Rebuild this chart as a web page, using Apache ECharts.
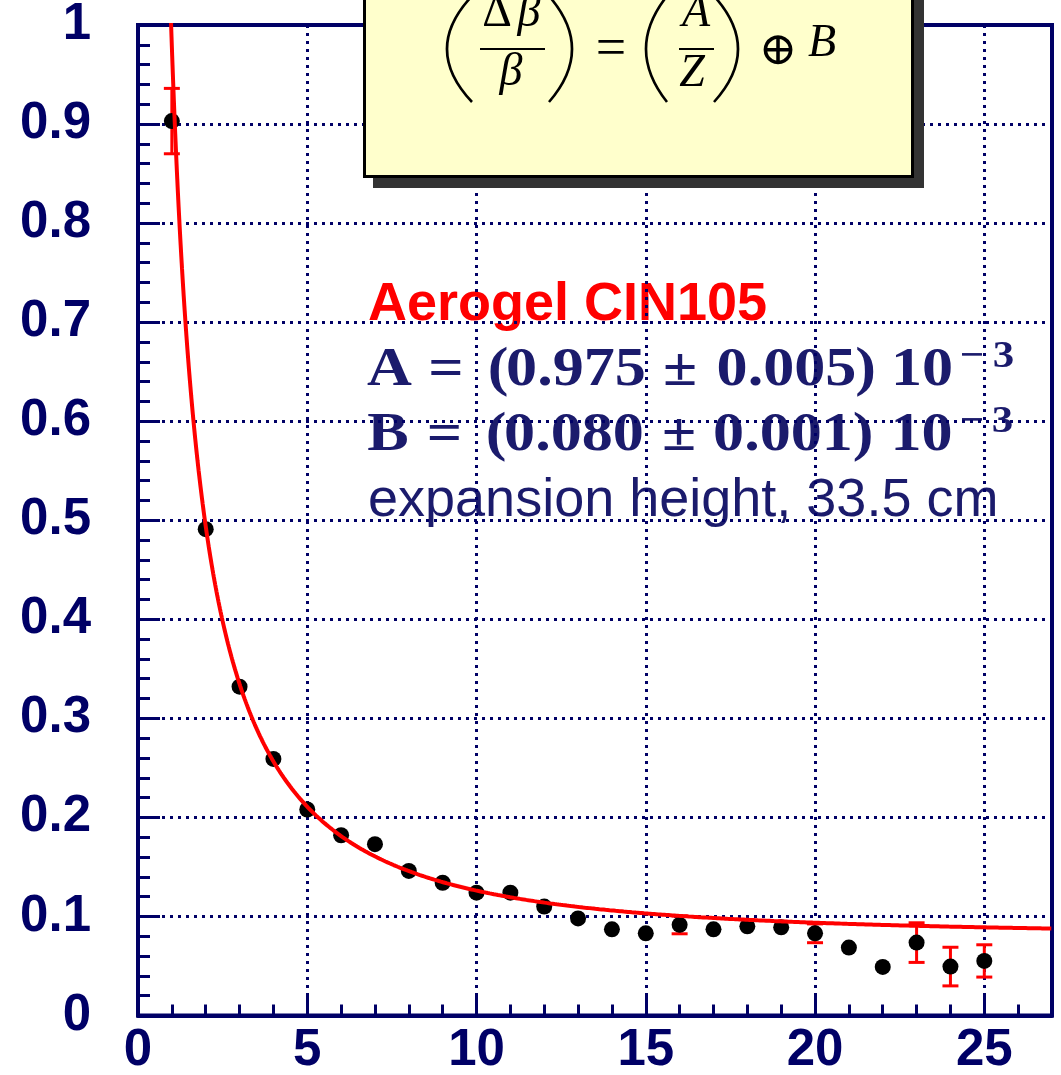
<!DOCTYPE html>
<html>
<head>
<meta charset="utf-8">
<script src="https://cdn.jsdelivr.net/npm/echarts@6/dist/echarts.min.js"></script>
<style>
  html, body { margin: 0; padding: 0; background: #ffffff; }
  #chart { width: 1061px; height: 1075px; }
</style>
</head>
<body>
<div id="chart"></div>
<script>
// Measured velocity resolution (Δβ/β, in units of 1e-3) versus particle charge Z
const charges = [1, 2, 3, 4, 5, 6, 7, 8, 9, 10, 11, 12, 13, 14, 15, 16, 17, 18, 19, 20, 21, 22, 23, 24, 25];
const resolution = [0.903, 0.491, 0.332, 0.259, 0.208, 0.182, 0.173, 0.146, 0.134, 0.124, 0.124, 0.110, 0.098,
                    0.087, 0.083, 0.0915, 0.087, 0.090, 0.089, 0.083, 0.0686, 0.049, 0.0736, 0.0494, 0.0551];
// Statistical errors; 0 where the bar is smaller than the marker
const resolutionErr = [0.033, 0, 0, 0, 0, 0, 0, 0, 0, 0, 0, 0, 0,
                       0, 0, 0.009, 0, 0, 0, 0.0095, 0, 0, 0.020, 0.0195, 0.0163];

// Fit parameters: (Δβ/β) = (A/Z) ⊕ B
const fitA = 0.975;
const fitB = 0.080;

const xMin = 0, xMax = 27;
const yMin = 0, yMax = 1;

const NAVY = '#000066';
const TEXT_NAVY = '#1b1b6c';

// Fit curve evaluated from the fitted parameters
const fitCurve = [];
for (let z = 0.96; z <= xMax + 1e-9; z += 0.01) {
  fitCurve.push([z, Math.sqrt((fitA / z) * (fitA / z) + fitB * fitB)]);
}

const points = charges.map((z, i) => [z, resolution[i]]);
const errorBars = charges
  .map((z, i) => [z, resolution[i], resolutionErr[i]])
  .filter(d => d[2] > 0);

const chart = echarts.init(document.getElementById('chart'), null, { renderer: 'canvas' });

// --- annotation helpers -------------------------------------------------
function txt(text, x, y, font, fill, opts) {
  const o = Object.assign({ align: 'center', z: -1, scaleX: 1 }, opts || {});
  return {
    type: 'text', x: x, y: y, z: o.z, scaleX: o.scaleX, silent: true,
    style: {
      text: text, font: font, fill: fill,
      textAlign: o.align, textVerticalAlign: 'middle',
      align: o.align, verticalAlign: 'middle'
    }
  };
}
function seg(x1, y1, x2, y2, w, color, z) {
  return { type: 'line', z: z, silent: true,
           shape: { x1: x1, y1: y1, x2: x2, y2: y2 },
           style: { stroke: color, lineWidth: w } };
}
function paren(xEnd, xMid, z) {
  // big bracket drawn as a quadratic curve bulging to xMid
  return { type: 'bezierCurve', z: z, silent: true,
           shape: { x1: xEnd, y1: -4, cpx1: 2 * xMid - xEnd, cpy1: 49, x2: xEnd, y2: 102 },
           style: { stroke: '#000', lineWidth: 2.6, fill: null } };
}

const mathFont = 'bold 55px "Liberation Serif"';
const supFont = 'bold 38px "Liberation Serif"';
const MS = 1.13;

function mathLine(tokens, midY, supMidY) {
  const out = [];
  tokens.forEach(t => {
    const isSup = t[2] === 'sup';
    out.push(txt(t[0], t[1], isSup ? supMidY : midY, isSup ? supFont : mathFont, TEXT_NAVY, { scaleX: MS }));
  });
  return out;
}

const lineA = [['A', 389.5], ['=', 446], ['(', 498], ['0.975', 576], ['±', 680], ['0.005', 786.5],
               [')', 865.5], ['10', 922], ['−', 972, 'sup'], ['3', 1003.5, 'sup']];
const lineB = [['B', 388], ['=', 444.5], ['(', 496], ['0.080', 574], ['±', 679], ['0.001', 783],
               [')', 863], ['10', 921.5], ['−', 972, 'sup'], ['3', 1002.5, 'sup']];

const ZB = 100; // formula box drawn above the frame grid
const italic = 'italic 46px "Liberation Serif"';
const upright = '46px "Liberation Serif"';

const graphics = [
  // annotation text (under grid lines)
  txt('Aerogel CIN105', 368, 305, 'bold 54px "Liberation Sans"', '#ff0000', { align: 'left' }),
  ...mathLine(lineA, 371, 357),
  ...mathLine(lineB, 436, 422),
  txt('expansion height, 33.5 cm', 368, 501, '54px "Liberation Sans"', TEXT_NAVY, { align: 'left' }),

  // formula box with drop shadow
  { type: 'rect', z: ZB, silent: true, shape: { x: 373, y: -20, width: 551, height: 208 },
    style: { fill: '#333333' } },
  { type: 'rect', z: ZB + 1, silent: true, shape: { x: 364.5, y: -30, width: 548, height: 206.5 },
    style: { fill: '#ffffcc', stroke: '#000000', lineWidth: 3 } },

  paren(472, 447, ZB + 2),
  txt('Δ', 497, 14, upright, '#000', { z: ZB + 2 }),
  txt('β', 529, 14, italic, '#000', { z: ZB + 2 }),
  seg(480, 49, 545, 49, 2.2, '#000', ZB + 2),
  txt('β', 511, 73, italic, '#000', { z: ZB + 2 }),
  paren(549, 572, ZB + 2),
  txt('=', 611, 51, '54px "Liberation Serif"', '#000', { z: ZB + 2 }),
  paren(667, 646, ZB + 2),
  txt('A', 696, 14, italic, '#000', { z: ZB + 2 }),
  seg(679, 49, 714, 49, 2.2, '#000', ZB + 2),
  txt('Z', 692, 74, italic, '#000', { z: ZB + 2 }),
  paren(714, 738, ZB + 2),
  txt('⊕', 778, 52, '46px "DejaVu Serif"', '#000', { z: ZB + 2 }),
  txt('B', 822, 44, italic, '#000', { z: ZB + 2 })
];

const dotted = { color: NAVY, width: 3, type: [3, 5] };
const labelFont = { fontFamily: 'Liberation Sans', fontWeight: 'bold', fontSize: 51, color: NAVY };

const option = {
  backgroundColor: '#ffffff',
  animation: false,
  grid: {
    left: 138, right: 9, top: 25, bottom: 59.5,
    show: true, borderColor: NAVY, borderWidth: 4, backgroundColor: 'transparent',
    containLabel: false, outerBoundsMode: 'none'
  },
  xAxis: [
    { // minor divisions every unit of Z
      type: 'value', position: 'bottom', min: xMin, max: xMax, interval: 1,
      axisLine: { show: true, lineStyle: { color: NAVY, width: 4 } },
      axisTick: { show: true, inside: true, length: 11, lineStyle: { color: NAVY, width: 3 } },
      axisLabel: { show: false },
      splitLine: { show: false }
    },
    { // labelled divisions every 5
      type: 'value', position: 'bottom', min: xMin, max: xMax, interval: 5,
      axisLine: { show: false },
      axisTick: { show: true, inside: true, length: 22, lineStyle: { color: NAVY, width: 3 } },
      axisLabel: Object.assign({ margin: 10, formatter: v => (v % 5 === 0 ? String(v) : '') }, labelFont),
      splitLine: { show: true, lineStyle: dotted }
    }
  ],
  yAxis: {
    type: 'value', min: yMin, max: yMax, interval: 0.1,
    axisLine: { show: true, lineStyle: { color: NAVY, width: 4 } },
    axisTick: { show: true, inside: true, length: 22, lineStyle: { color: NAVY, width: 3 } },
    minorTick: { show: true, splitNumber: 5, length: 12, lineStyle: { color: NAVY, width: 3 } },
    axisLabel: Object.assign({ margin: 47, formatter: v => String(Math.round(v * 10) / 10) }, labelFont),
    splitLine: { show: true, lineStyle: dotted }
  },
  graphic: { elements: graphics },
  series: [
    {
      type: 'custom', name: 'errors', xAxisIndex: 0, z: 3,
      data: errorBars,
      renderItem: function (params, api) {
        const x = api.value(0), y = api.value(1), e = api.value(2);
        const top = api.coord([x, y + e]);
        const bot = api.coord([x, y - e]);
        const hw = 8;
        const st = { stroke: '#ff0000', lineWidth: 3 };
        return {
          type: 'group',
          children: [
            { type: 'line', shape: { x1: top[0], y1: top[1], x2: bot[0], y2: bot[1] }, style: st },
            { type: 'line', shape: { x1: top[0] - hw, y1: top[1], x2: top[0] + hw, y2: top[1] }, style: st },
            { type: 'line', shape: { x1: bot[0] - hw, y1: bot[1], x2: bot[0] + hw, y2: bot[1] }, style: st }
          ]
        };
      }
    },
    {
      type: 'scatter', name: 'data', xAxisIndex: 0, z: 4,
      data: points, symbol: 'circle', symbolSize: 16,
      itemStyle: { color: '#000000', opacity: 1 }
    },
    {
      type: 'line', name: 'fit', xAxisIndex: 0, z: 5,
      data: fitCurve, showSymbol: false, smooth: false, clip: true,
      lineStyle: { color: '#ff0000', width: 4 }
    }
  ]
};

chart.setOption(option);
</script>
</body>
</html>
